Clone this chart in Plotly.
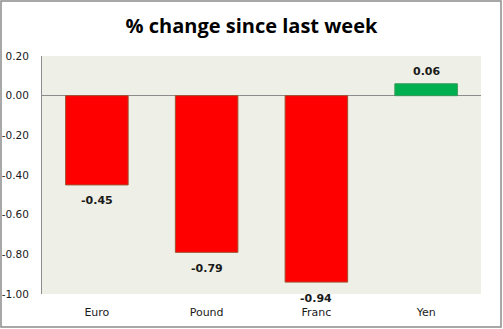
import plotly.graph_objects as go

currencies = ["Euro", "Pound", "Franc", "Yen"]
pct_change = [-0.45, -0.79, -0.94, 0.06]
bar_colors = ["#FF0000" if v < 0 else "#00B050" for v in pct_change]
edge_colors = ["#A05030" if v < 0 else "#3A9A5A" for v in pct_change]
y_ticks = [0.20, 0.00, -0.20, -0.40, -0.60, -0.80, -1.00]

fig = go.Figure(
    go.Bar(
        x=currencies,
        y=pct_change,
        marker=dict(color=bar_colors, line=dict(color=edge_colors, width=1)),
        cliponaxis=False,
    )
)

# value labels sit a little beyond the end of each bar
for cat, v in zip(currencies, pct_change):
    fig.add_annotation(
        x=cat,
        y=v,
        text=f"{v:.2f}",
        showarrow=False,
        yshift=-16 if v < 0 else 12,
        font=dict(family="DejaVu Sans", size=11, color="#1a1a1a", weight="bold"),
    )

fig.update_layout(
    width=503,
    height=329,
    margin=dict(l=42, r=22, t=56, b=35, autoexpand=False),
    paper_bgcolor="white",
    plot_bgcolor="#EEF0E7",
    bargap=0.43,
    showlegend=False,
    title=dict(
        text="% change since last week",
        x=0.5,
        xanchor="center",
        y=0.922,
        yanchor="middle",
        font=dict(family="Open Sans", size=20, color="black", weight="bold"),
    ),
    xaxis=dict(
        automargin=False,
        showgrid=False,
        showline=False,
        ticks="",
        tickfont=dict(family="DejaVu Sans", size=11, color="#1a1a1a"),
        ticklabelstandoff=10,
    ),
    yaxis=dict(
        automargin=False,
        range=[-1.0, 0.2],
        tickvals=y_ticks,
        ticktext=[f"{v:.2f}" for v in y_ticks],
        showgrid=False,
        zeroline=True,
        zerolinecolor="#8C8C8C",
        zerolinewidth=1,
        showline=True,
        linecolor="#8C8C8C",
        linewidth=1,
        ticks="outside",
        ticklen=0,
        ticklabelstandoff=10,
        tickfont=dict(family="DejaVu Sans", size=10.5, color="#1a1a1a"),
    ),
    shapes=[
        dict(
            type="rect",
            xref="paper",
            yref="paper",
            x0=-41 / 439,
            x1=1 + 20 / 439,
            y0=-33 / 238,
            y1=1 + 55 / 238,
            line=dict(color="#8C8C8C", width=1.5),
        )
    ],
)

fig.write_html("out.html")
